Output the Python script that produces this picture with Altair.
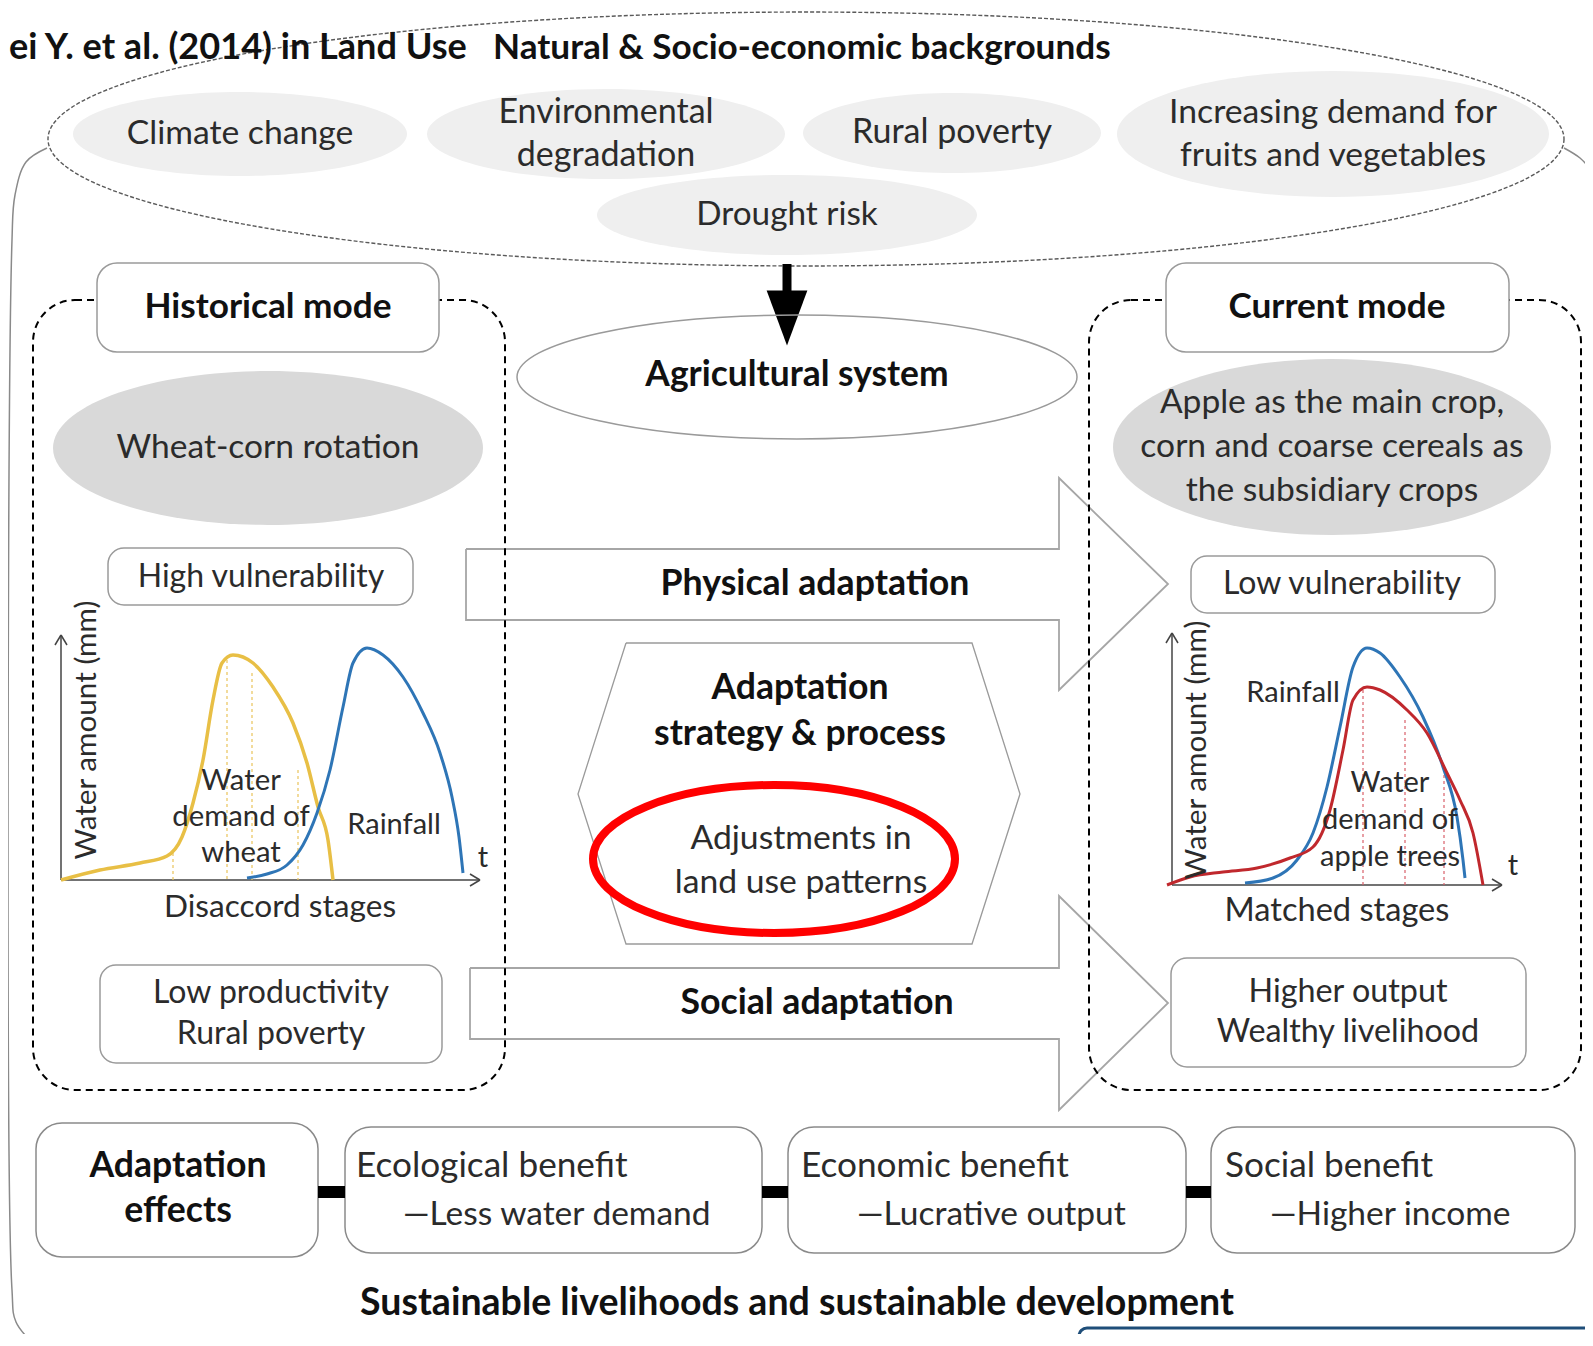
import altair as alt
import pandas as pd

# ---------------- text content ----------------
title_text = "ei Y. et al. (2014) in Land Use"
header_text = "Natural & Socio-economic backgrounds"
factor_labels = ["Climate change", "Environmental\ndegradation", "Rural poverty",
                 "Increasing demand for\nfruits and vegetables", "Drought risk"]
system_label = "Agricultural system"
mode_labels = ["Historical mode", "Current mode"]
crop_labels = ["Wheat-corn rotation",
               "Apple as the main crop,\ncorn and coarse cereals as\nthe subsidiary crops"]
vulnerability_labels = ["High vulnerability", "Low vulnerability"]
outcome_labels = ["Low productivity\nRural poverty", "Higher output\nWealthy livelihood"]
adaptation_labels = ["Physical adaptation", "Social adaptation"]
strategy_label = "Adaptation\nstrategy & process"
adjust_label = "Adjustments in\nland use patterns"
stage_labels = ["Disaccord stages", "Matched stages"]
yaxis_label = "Water amount (mm)"
left_curve_labels = ["Water\ndemand of\nwheat", "Rainfall"]
right_curve_labels = ["Rainfall", "Water\ndemand of\napple trees"]
time_label = "t"
effects_label = "Adaptation\neffects"
benefit_titles = ["Ecological benefit", "Economic benefit", "Social benefit"]
benefit_subs = ["\u2014Less water demand", "\u2014Lucrative output", "\u2014Higher income"]
footer_text = "Sustainable livelihoods and sustainable development"

# ---------------- curve series ----------------
wheat_x = [61, 100, 140, 167, 182, 193, 203, 213, 222, 233, 253, 273, 293, 307, 318, 328, 333]
wheat_y = [880, 870, 863, 856, 837, 803, 760, 700, 663, 655, 663, 687, 723, 763, 807, 840, 880]
rain_hist_x = [247, 267, 287, 303, 317, 330, 343, 353, 367, 383, 403, 423, 440, 452, 459, 463]
rain_hist_y = [878, 874, 865, 845, 813, 770, 707, 663, 648, 655, 677, 713, 753, 797, 837, 873]
wheat_stage_x = [173, 227, 252, 298]
wheat_stage_top = [853, 660, 673, 770]

rain_cur_x = [1245, 1273, 1297, 1313, 1327, 1340, 1353, 1367, 1380, 1400, 1423, 1443, 1457, 1463, 1465]
rain_cur_y = [883, 878, 860, 833, 787, 727, 667, 648, 653, 677, 717, 767, 817, 860, 878]
apple_x = [1167, 1190, 1223, 1257, 1290, 1313, 1330, 1343, 1353, 1367, 1380, 1407, 1427, 1447, 1460, 1473, 1483]
apple_y = [885, 877, 872, 868, 858, 847, 810, 750, 700, 687, 690, 710, 733, 773, 800, 833, 885]
apple_stage_x = [1363, 1405, 1444]
apple_stage_top = [690, 720, 775]

# ---------------- layout ----------------
W, H = 1577, 1326
X0, Y0 = 8, 8
xs = alt.Scale(domain=[X0, X0 + W], nice=False, zero=False)
ys = alt.Scale(domain=[Y0, Y0 + H], nice=False, zero=False, reverse=True)
FONT = "Lato"
REG = "#2b2b2b"
BOLD = "#111111"


def X(f="x"):
    return alt.X(f"{f}:Q", scale=xs, axis=None)


def Y(f="y"):
    return alt.Y(f"{f}:Q", scale=ys, axis=None)


def ellipse_path(rx, ry):
    k = ry / rx
    c = 0.5523
    return (f"M1,0 C1,{c*k:.4f} {c:.4f},{k:.4f} 0,{k:.4f} "
            f"C{-c:.4f},{k:.4f} -1,{c*k:.4f} -1,0 "
            f"C-1,{-c*k:.4f} {-c:.4f},{-k:.4f} 0,{-k:.4f} "
            f"C{c:.4f},{-k:.4f} 1,{-c*k:.4f} 1,0 Z")


def ellipse_layer(cx, cy, rx, ry, fill=None, stroke=None, sw=1.0, dash=None):
    df = pd.DataFrame({"x": [cx], "y": [cy]})
    kw = dict(shape=ellipse_path(rx, ry), size=(2 * rx) ** 2, opacity=1)
    if fill:
        kw.update(filled=True, fill=fill)
    else:
        kw.update(filled=False, fill="transparent")
    if stroke:
        kw.update(stroke=stroke, strokeWidth=sw)
    else:
        kw.update(strokeWidth=0)
    if dash:
        kw["strokeDash"] = dash
    return alt.Chart(df).mark_point(**kw).encode(x=X(), y=Y())


def poly_df(groups):
    rows = []
    for gid, gx, gy in groups:
        for i, (a, b) in enumerate(zip(gx, gy)):
            rows.append(dict(g=gid, i=i, x=a, y=b))
    return pd.DataFrame(rows)


def line_layer(df, color, width, dash=None, interp="linear"):
    kw = dict(color=color, strokeWidth=width, interpolate=interp)
    if dash:
        kw["strokeDash"] = dash
    return alt.Chart(df).mark_line(**kw).encode(x=X(), y=Y(), detail="g:N", order="i:Q")


def rule_layer(df, color, width, dash=None):
    kw = dict(color=color, strokeWidth=width)
    if dash:
        kw["strokeDash"] = dash
    return alt.Chart(df).mark_rule(**kw).encode(x=X(), y=Y(), x2="x2:Q", y2="y2:Q")


def rect_layer(df, fill=None, stroke=None, sw=1.0, radius=0, dash=None):
    kw = dict(cornerRadius=radius, strokeWidth=sw)
    if fill:
        kw["fill"] = fill
    else:
        kw.update(fill="white", fillOpacity=0)
    if stroke:
        kw["stroke"] = stroke
    if dash:
        kw["strokeDash"] = dash
    return alt.Chart(df).mark_rect(**kw).encode(x=X(), y=Y(), x2="x2:Q", y2="y2:Q")


text_rows = []


def add_text(label, x, y, size, bold=False, align="center", ls=None, angle=0):
    lines = label.split("\n")
    ls = ls or size * 1.3
    n = len(lines)
    for i, ln in enumerate(lines):
        text_rows.append(dict(text=ln, x=x, y=y + (i - (n - 1) / 2) * ls, size=size,
                              bold=bold, align=align, angle=angle))


layers = []

# outer frame
frame = poly_df([
    ("L", [47, 26, 15, 12, 12, 16, 36], [148, 162, 195, 240, 1290, 1322, 1346]),
    ("R", [1564, 1580, 1593], [148, 158, 172]),
])
layers.append(line_layer(frame, "#8a8a8a", 1.5, interp="catmull-rom"))

# big background ellipse
layers.append(ellipse_layer(806, 139, 758, 127, stroke="#5a5a5a", sw=1.4, dash=[4, 2]))

# background factor ellipses
factor_cx = [240, 606, 952, 1333, 787]
factor_cy = [134, 134, 133, 134, 215]
factor_rx = [167, 179, 149, 216, 190]
factor_ry = [42, 45, 40, 63, 40]
factor_size = [33.7, 34, 34, 33.7, 33.3]
for lab, cx, cy, rx, ry, fs in zip(factor_labels, factor_cx, factor_cy, factor_rx, factor_ry, factor_size):
    layers.append(ellipse_layer(cx, cy, rx, ry, fill="#efefef"))
    add_text(lab, cx, cy, fs, ls=43)

# down arrow
layers.append(rule_layer(pd.DataFrame({"x": [787], "y": [264], "x2": [787], "y2": [296]}), "black", 9))
layers.append(alt.Chart(pd.DataFrame({"x": [787], "y": [318]})).mark_point(
    shape="M-0.74,-1 L0.74,-1 L0,1 Z", size=55 ** 2, filled=True, fill="black",
    strokeWidth=0, opacity=1).encode(x=X(), y=Y()))

# agricultural system ellipse
layers.append(ellipse_layer(797, 377, 280, 62, stroke="#9a9a9a", sw=1.5))
add_text(system_label, 797, 375, 35.4, bold=True)

# adaptation arrows
arrows = poly_df([
    ("phys", [466, 1059, 1059, 1168, 1059, 1059, 466, 466], [549, 549, 478, 584, 690, 620, 620, 549]),
    ("soc", [470, 1059, 1059, 1168, 1059, 1059, 470, 470], [968, 968, 896, 1003, 1110, 1039, 1039, 968]),
])
layers.append(line_layer(arrows, "#a6a6a6", 1.8))
add_text(adaptation_labels[0], 815, 584, 35.7, bold=True)
add_text(adaptation_labels[1], 817, 1003, 35.7, bold=True)

# hexagon
hexa = poly_df([("hex", [626, 972, 1020, 972, 626, 578, 626], [643, 643, 794, 944, 944, 794, 643])])
layers.append(line_layer(hexa, "#9a9a9a", 1.3))
add_text(strategy_label, 800, 711, 35.6, bold=True, ls=46)

# mode dashed frames
modes = pd.DataFrame({"x": [33, 1089], "x2": [505, 1581], "y": [300, 300], "y2": [1090, 1090]})
layers.append(rect_layer(modes, stroke="black", sw=2, radius=42, dash=[7, 5]))
mode_boxes = pd.DataFrame({"x": [97, 1166], "x2": [439, 1509], "y": [263, 263], "y2": [352, 352]})
layers.append(rect_layer(mode_boxes, fill="white", stroke="#9a9a9a", sw=1.5, radius=20))
add_text(mode_labels[0], 268, 307, 35.2, bold=True)
add_text(mode_labels[1], 1337, 307, 35.2, bold=True)

# crop ellipses
layers.append(ellipse_layer(268, 448, 215, 77, fill="#d9d9d9"))
layers.append(ellipse_layer(1332, 447, 219, 88, fill="#d9d9d9"))
add_text(crop_labels[0], 268, 448, 33.5)
add_text(crop_labels[1], 1332, 447, 33.6, ls=44)

# small boxes
small_boxes = pd.DataFrame({"x": [108, 1191, 100, 1171], "x2": [413, 1495, 442, 1526],
                            "y": [548, 556, 965, 958], "y2": [605, 613, 1063, 1067]})
layers.append(rect_layer(small_boxes, fill="white", stroke="#9a9a9a", sw=1.5, radius=16))
add_text(vulnerability_labels[0], 261, 577, 32)
add_text(vulnerability_labels[1], 1342, 584, 32)
add_text(outcome_labels[0], 271, 1013, 32, ls=41)
add_text(outcome_labels[1], 1348, 1012, 32.3, ls=40)

# red highlight ellipse
layers.append(ellipse_layer(774, 859, 181, 74, stroke="#ff0000", sw=8))
add_text(adjust_label, 801, 861, 33.7, ls=44)

# chart axes
axes = pd.DataFrame({
    "x": [61, 61, 55, 67, 470, 470, 1172, 1172, 1166, 1178, 1492, 1492],
    "y": [880, 880, 645, 645, 874, 886, 885, 885, 643, 643, 879, 891],
    "x2": [61, 480, 61, 61, 480, 480, 1172, 1502, 1172, 1172, 1502, 1502],
    "y2": [635, 880, 635, 635, 880, 880, 633, 885, 633, 633, 885, 885],
})
layers.append(rule_layer(axes, "#444444", 1.5))

# dotted stage lines
layers.append(rule_layer(pd.DataFrame({"x": wheat_stage_x, "y": wheat_stage_top,
                                       "x2": wheat_stage_x, "y2": [880] * len(wheat_stage_x)}),
                         "#e9c45a", 1.2, dash=[3, 3]))
layers.append(rule_layer(pd.DataFrame({"x": apple_stage_x, "y": apple_stage_top,
                                       "x2": apple_stage_x, "y2": [885] * len(apple_stage_x)}),
                         "#d9606a", 1.2, dash=[3, 3]))

# curves
layers.append(line_layer(poly_df([("w", wheat_x, wheat_y)]), "#e8bf45", 3.5, interp="monotone"))
layers.append(line_layer(poly_df([("r", rain_hist_x, rain_hist_y)]), "#2e75b6", 3, interp="monotone"))
layers.append(line_layer(poly_df([("rc", rain_cur_x, rain_cur_y)]), "#2e75b6", 3, interp="monotone"))
layers.append(line_layer(poly_df([("a", apple_x, apple_y)]), "#c0282d", 3, interp="monotone"))

add_text(left_curve_labels[0], 241, 817, 29.3, ls=36)
add_text(left_curve_labels[1], 394, 825, 29)
add_text(time_label, 483, 858, 29)
add_text(right_curve_labels[0], 1293, 693, 29)
add_text(right_curve_labels[1], 1390, 820, 29, ls=37)
add_text(time_label, 1513, 866, 29)
add_text(stage_labels[0], 280, 908, 31.6)
add_text(stage_labels[1], 1337, 911, 32.6)

# bottom effect boxes
eff = pd.DataFrame({"x": [36, 345, 788, 1211], "x2": [318, 762, 1186, 1575],
                    "y": [1123, 1127, 1127, 1127], "y2": [1257, 1253, 1253, 1253]})
layers.append(rect_layer(eff, fill="white", stroke="#8a8a8a", sw=1.5, radius=26))
conn = pd.DataFrame({"x": [318, 762, 1186], "x2": [345, 788, 1211],
                     "y": [1186, 1186, 1186], "y2": [1198, 1198, 1198]})
layers.append(rect_layer(conn, fill="black"))
add_text(effects_label, 178, 1188, 35.6, bold=True, ls=45)
for t, s, tx, sx in zip(benefit_titles, benefit_subs, [356, 801, 1225], [403, 857, 1270]):
    add_text(t, tx, 1166, 35.2, align="left")
    add_text(s, sx, 1215, 33.5, align="left")
add_text(footer_text, 797, 1304, 37.5, bold=True)

# blue box at the bottom-right corner
layers.append(rect_layer(pd.DataFrame({"x": [1079], "x2": [1700], "y": [1328], "y2": [1420]}),
                         stroke="#1f4e79", sw=3, radius=8))

# header texts
add_text(title_text, 9, 48, 36.1, bold=True, align="left")
add_text(header_text, 493, 48, 35.2, bold=True, align="left")

# rotated axis titles
add_text(yaxis_label, 87, 730, 29.7, angle=270)
add_text(yaxis_label, 1197, 750, 29.7, angle=270)

tdf = pd.DataFrame(text_rows)
for bold in [False, True]:
    for align in ["left", "center", "right"]:
        for angle in sorted(tdf["angle"].unique()):
            sub = tdf[(tdf["bold"] == bold) & (tdf["align"] == align) & (tdf["angle"] == angle)]
            if len(sub) == 0:
                continue
            kw = dict(font=FONT, align=align, baseline="middle",
                      fontWeight="bold" if bold else "normal",
                      color=BOLD if bold else REG)
            if angle:
                kw["angle"] = int(angle)
            layers.append(alt.Chart(sub).mark_text(**kw).encode(
                x=X(), y=Y(), text="text:N", size=alt.Size("size:Q", scale=None)))

chart = alt.layer(*layers).properties(
    width=W, height=H, padding=0, autosize=alt.AutoSizeParams(type="none"),
    background="white"
).configure_view(stroke=None)

chart.save("out.html", embed_options={"renderer": "svg", "actions": False})
